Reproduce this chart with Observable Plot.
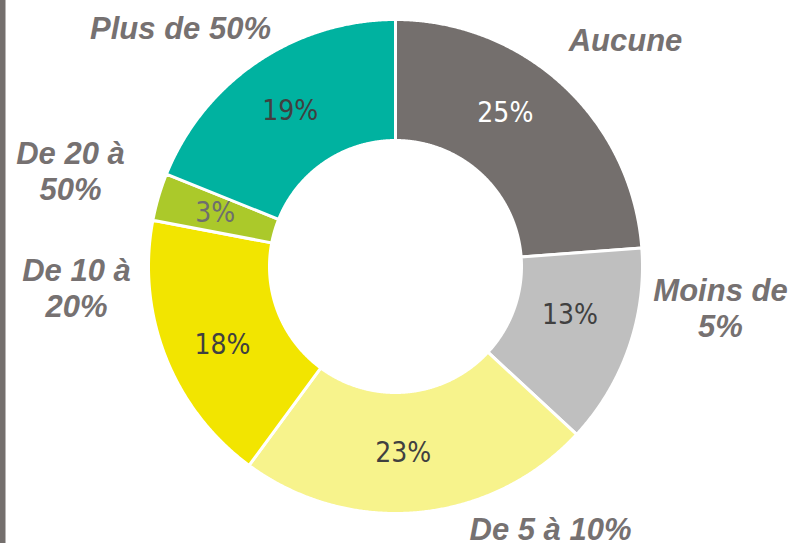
<!DOCTYPE html>
<html><head><meta charset="utf-8">
<script src="https://cdn.jsdelivr.net/npm/d3@7"></script>
<script src="https://cdn.jsdelivr.net/npm/@observablehq/plot@0.6"></script>
<style>body{margin:0;background:#fff}#chart svg{display:block}</style>
</head><body><div id="chart"></div>
<script>
// ---- data ----
const categories = ["Aucune", "Moins de 5%", "De 5 à 10%", "De 10 à 20%", "De 20 à 50%", "Plus de 50%"];
const shares = [23.8, 13.1, 23.2, 17.9, 3.1, 18.9];          // slice sizes
const shareLabels = ["25%", "13%", "23%", "18%", "3%", "19%"]; // printed labels
const categoryLabels = ["Aucune", "Moins de\n5%", "De 5 à 10%", "De 10 à\n20%", "De 20 à\n50%", "Plus de 50%"];

// ---- styles / layout ----
const colors = ["#746f6d", "#bfbfbf", "#f7f38c", "#f2e500", "#abc92a", "#00b2a0"];
const pctColors = ["#ffffff", "#404040", "#404040", "#404040", "#6e6e6e", "#404040"];
const W = 793, H = 543, CX = 395, CY = 266, R = 247, INNER = 126 / 247, LABEL_R = 188 / 247;
const pctNudge = {"Aucune": [-18, -16], "Moins de 5%": [-3, -13], "De 5 à 10%": [-10, -1], "De 10 à 20%": [2, 10]};
// outer category label anchors in pixels (placed by hand in the original)
const outerPos = {
  "Aucune": [625, 39], "Moins de 5%": [720, 307], "De 5 à 10%": [550, 528],
  "De 10 à 20%": [76, 287], "De 20 à 50%": [70, 170], "Plus de 50%": [180, 27]
};

const rows = categories.map((c, i) => ({cat: c, share: shares[i], label: shareLabels[i], outer: categoryLabels[i], pctColor: pctColors[i]}));
const arcs = d3.pie().sort(null).value(d => d.share)(rows);

// polygon outline of each ring slice
const pts = [];
for (const a of arcs) {
  const n = Math.max(4, Math.ceil((a.endAngle - a.startAngle) / 0.005));
  for (let k = 0; k <= n; k++) {
    const t = a.startAngle + (a.endAngle - a.startAngle) * k / n;
    pts.push({cat: a.data.cat, x: Math.sin(t), y: Math.cos(t)});
  }
  for (let k = n; k >= 0; k--) {
    const t = a.startAngle + (a.endAngle - a.startAngle) * k / n;
    pts.push({cat: a.data.cat, x: INNER * Math.sin(t), y: INNER * Math.cos(t)});
  }
}

const px2x = p => (p - CX) / R, px2y = p => (CY - p) / R;
const pctRows = arcs.map(a => {
  const m = (a.startAngle + a.endAngle) / 2;
  const nd = pctNudge[a.data.cat] || [0, 0];
  return {x: LABEL_R * Math.sin(m) + nd[0] / R, y: LABEL_R * Math.cos(m) - nd[1] / R, text: a.data.label, color: a.data.pctColor};
});
const outerRows = rows.map(r => ({x: px2x(outerPos[r.cat][0]), y: px2y(outerPos[r.cat][1]), text: r.outer}));

const pctMarks = [...new Set(pctColors)].map(c =>
  Plot.text(pctRows.filter(d => d.color === c), {
    x: "x", y: "y", text: "text", fill: c, fontSize: 28,
    fontFamily: "'DejaVu Sans Condensed', 'Liberation Sans Narrow', sans-serif",
    textAnchor: "middle", lineAnchor: "middle"
  })
);

const chart = Plot.plot({
  width: W, height: H,
  marginTop: 0, marginRight: 0, marginBottom: 0, marginLeft: 0,
  x: {domain: [-1, 1], range: [CX - R, CX + R], axis: null},
  y: {domain: [-1, 1], range: [CY + R, CY - R], axis: null},
  color: {domain: categories, range: colors},
  style: {background: "#fff", overflow: "visible"},
  marks: [
    Plot.frame({anchor: "left", stroke: "#746f6d", strokeWidth: 10}),
    Plot.line(pts, {x: "x", y: "y", z: "cat", fill: "cat", stroke: "white", strokeWidth: 3, curve: "linear-closed"}),
    ...pctMarks,
    Plot.text(outerRows, {
      x: "x", y: "y", text: "text", fill: "#767171", fontSize: 31, fontWeight: "bold", fontStyle: "italic",
      fontFamily: "'Liberation Sans', Arial, sans-serif", textAnchor: "middle", lineAnchor: "middle", lineHeight: 1.17
    })
  ]
});
document.getElementById("chart").appendChild(chart);
</script>
</body></html>
